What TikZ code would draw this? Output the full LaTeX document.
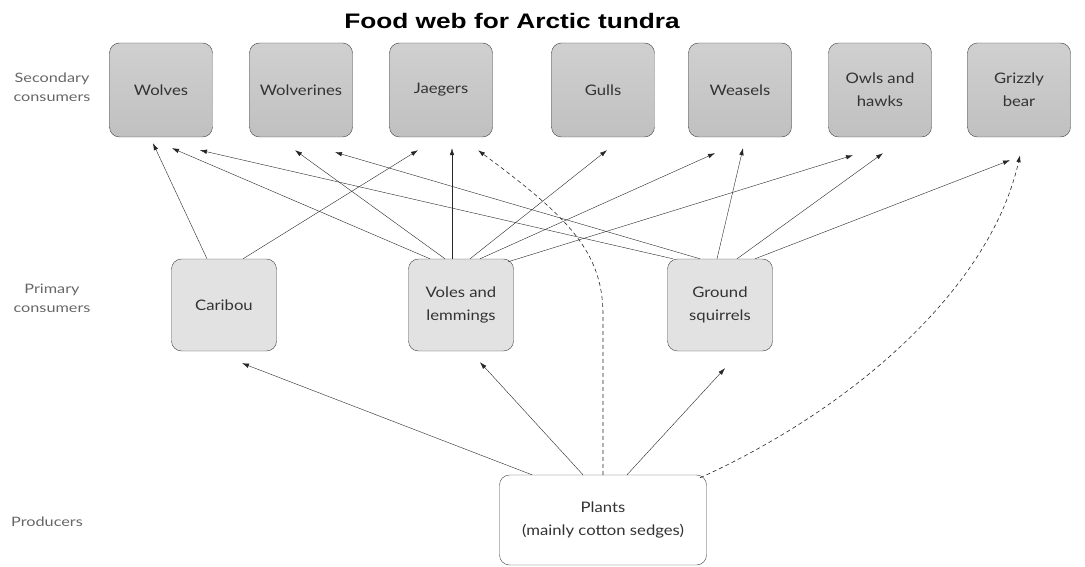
\documentclass[tikz,border=0pt]{standalone}
\usepackage{fontspec}
\setmainfont{Lato}
\newfontfamily\titlefont{Liberation Sans}[FakeStretch=1.25]
\newfontfamily\boxfont{Lato}[FakeStretch=1.15]
\newfontfamily\levelfont{Lato}[FakeStretch=1.25]
\usepackage{tikz}
\usetikzlibrary{arrows.meta, positioning}
\definecolor{TundraGray}{RGB}{192,192,192}
\definecolor{TundraLight}{RGB}{226,226,226}

\begin{document}
\begin{tikzpicture}[x=1pt, y=-1pt,
            consumer/.style={rectangle, rounded corners=10pt, draw=black!75,
                        minimum width=103pt, minimum height=94pt, align=center,
                        font=\boxfont\fontsize{14.5}{23}\selectfont, text=black!80},
            top/.style={consumer, top color=TundraGray!75, bottom color=TundraGray},
            prim/.style={consumer, fill=TundraLight, minimum width=105pt, minimum height=92pt},
            level/.style={align=center, font=\levelfont\fontsize{13}{19}\selectfont, text=black!60},
            eats/.style={-{Latex[length=7pt, width=4.5pt]}, thin, black!85},
            maybe/.style={eats, semithick, dash pattern=on 4pt off 3pt}
          ]
          \useasboundingbox (0,0) rectangle (1085,567);
          \node[font=\titlefont\bfseries\fontsize{21}{24}\selectfont] (title) at (512,21)
                {Food web for Arctic tundra};

          % trophic levels
          \node[level] (lvlsec) at (52,87) {Secondary\\consumers};
          \node[level] (lvlprim) at (52,298) {Primary\\consumers};
          \node[level] (lvlprod) at (47,522) {Producers};

          % secondary consumers
          \node[top] (wolves) at (161,90) {Wolves};
          \node[top] (wolverines) at (301,90) {Wolverines};
          \node[top] (jaegers) at (441,90) {Jaegers};
          \node[top] (gulls) at (603,90) {Gulls};
          \node[top] (weasels) at (740,90) {Weasels};
          \node[top] (owls) at (880,90) {Owls and\\hawks};
          \node[top] (grizzly) at (1019,90) {Grizzly\\bear};

          % primary consumers
          \node[prim] (caribou) at (224,305) {Caribou};
          \node[prim] (voles) at (461,305) {Voles and\\lemmings};
          \node[prim] (squirrels) at (720,305) {Ground\\squirrels};

          % producers
          \node[consumer, fill=white, minimum width=207pt, minimum height=90pt] (plants)
                at (603,520) {Plants\\(mainly cotton sedges)};

          % caribou
          \draw[eats] ([xshift=-17pt]caribou.north) -- ([xshift=-8pt, yshift=-6pt]wolves.south);
          \draw[eats] ([xshift=19pt]caribou.north) -- ([xshift=-23pt, yshift=-13pt]jaegers.south);

          % voles and lemmings
          \draw[eats] ([xshift=-31pt]voles.north) -- ([xshift=11pt, yshift=-11pt]wolves.south);
          \draw[eats] ([xshift=-16pt]voles.north) -- ([xshift=-6pt, yshift=-13pt]wolverines.south);
          \draw[eats] ([xshift=-9pt]voles.north) -- ([xshift=11pt, yshift=-11pt]jaegers.south);
          \draw[eats] ([xshift=9pt]voles.north) -- ([xshift=4pt, yshift=-13pt]gulls.south);
          \draw[eats] ([xshift=19pt]voles.north) -- ([xshift=-25pt, yshift=-16pt]weasels.south);
          \draw[eats] ([xshift=47pt, yshift=-3pt]voles.north) -- ([xshift=-27pt, yshift=-18pt]owls.south);

          % ground squirrels
          \draw[eats] ([xshift=-47pt]squirrels.north) -- ([xshift=39pt, yshift=-13pt]wolves.south);
          \draw[eats] ([xshift=-20pt]squirrels.north) -- ([xshift=34pt, yshift=-15pt]wolverines.south);
          \draw[eats] ([xshift=-3pt]squirrels.north) -- ([xshift=3pt, yshift=-11pt]weasels.south);
          \draw[eats] ([xshift=17pt]squirrels.north) -- ([xshift=3pt, yshift=-16pt]owls.south);
          \draw[eats] ([xshift=35pt]squirrels.north) -- ([xshift=-9pt, yshift=-23pt]grizzly.south);

          % plants
          \draw[eats] ([xshift=-71pt]plants.north) -- ([xshift=18pt, yshift=-12pt]caribou.south);
          \draw[eats] ([xshift=-20pt]plants.north) -- ([xshift=19pt, yshift=-11pt]voles.south);
          \draw[eats] ([xshift=24pt]plants.north) -- ([xshift=5pt, yshift=-17pt]squirrels.south);
          \draw[maybe] (plants.north) -- ++(0,-160) .. controls (603,250) and (565,215)
                .. ([xshift=37pt, yshift=-13pt]jaegers.south);
          \draw[maybe] ([xshift=97pt, yshift=-3pt]plants.north) .. controls (850,410) and (990,290)
                .. ([xshift=1pt, yshift=-18pt]grizzly.south);
        \end{tikzpicture}
\end{document}
